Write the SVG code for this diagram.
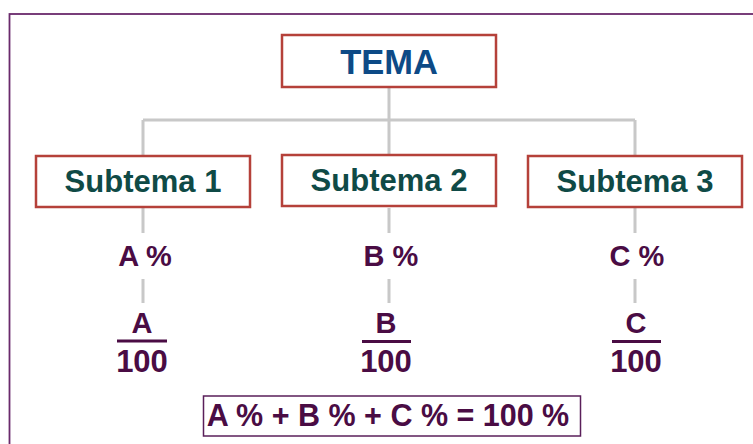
<svg xmlns="http://www.w3.org/2000/svg" width="753" height="444" viewBox="0 0 753 444">
<style>
.box{fill:#fff;stroke:#b5413a;stroke-width:2.5}
.conn{stroke:#c8c8c8;stroke-width:3;fill:none}
.t{font-family:"Liberation Sans",Arial,sans-serif;font-weight:bold;text-anchor:middle}
.tema{fill:#0d4a86;font-size:34.5px}
.sub{fill:#0f4a46;font-size:31px}
.pct{fill:#4a0c44;font-size:29px}
.num{font-size:31px}
.eq{font-size:30.5px}
.bar{stroke:#4a0c44;stroke-width:3}
</style>
<rect width="753" height="444" fill="#fff"/>
<rect x="9.5" y="14" width="760" height="450" fill="none" stroke="#6a2a6c" stroke-width="1.8"/>
<g id="connectors">
<path class="conn" d="M389 88V120M143 120H635M143 120V155M389 120V155M635 120V155"/>
<path class="conn" d="M143 208V233M389 208V233M635 208V233"/>
<path class="conn" d="M143 279V303M389 279V303M635 279V303"/>
</g>
<g id="tema">
<rect class="box" x="282" y="35" width="214" height="52"/>
<text class="t tema" x="389" y="74">TEMA</text>
</g>
<g id="subtema1">
<rect class="box" x="36" y="156" width="214" height="51"/>
<text class="t sub" x="143" y="192">Subtema 1</text>
</g>
<g id="subtema2">
<rect class="box" x="282" y="155" width="214" height="51"/>
<text class="t sub" x="389" y="191">Subtema 2</text>
</g>
<g id="subtema3">
<rect class="box" x="528" y="156" width="214" height="51"/>
<text class="t sub" x="635" y="192">Subtema 3</text>
</g>
<g id="pctA"><text class="t pct" x="145" y="266">A %</text></g>
<g id="pctB"><text class="t pct" x="391" y="266">B %</text></g>
<g id="pctC"><text class="t pct" x="637" y="266">C %</text></g>
<g id="fracA">
<text class="t pct" x="142" y="333">A</text>
<line class="bar" x1="117" y1="341" x2="167" y2="341"/>
<text class="t pct num" x="142" y="372">100</text>
</g>
<g id="fracB">
<text class="t pct" x="386" y="333">B</text>
<line class="bar" x1="362" y1="341.5" x2="411" y2="341.5"/>
<text class="t pct num" x="386" y="372">100</text>
</g>
<g id="fracC">
<text class="t pct" x="636" y="333">C</text>
<line class="bar" x1="612" y1="341.5" x2="661" y2="341.5"/>
<text class="t pct num" x="636" y="372">100</text>
</g>
<g id="sum">
<rect x="203.5" y="396" width="377" height="40" fill="#fff" stroke="#5a1f5a" stroke-width="1.5"/>
<text class="t pct eq" x="388" y="426">A % + B % + C % = 100 %</text>
</g>
</svg>
